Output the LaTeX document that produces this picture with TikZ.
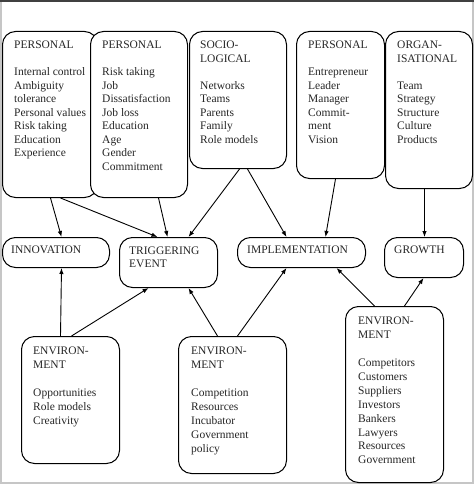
\documentclass[tikz,border=0pt]{standalone}
\usepackage{fontspec}
\setmainfont{Liberation Serif}
\usetikzlibrary{arrows.meta}

\begin{document}
\begin{tikzpicture}[x=1pt,y=-1pt,
  box/.style={draw,fill=white,line width=1pt,rounded corners=13pt,anchor=north west,inner sep=0pt},
  txt/.style={anchor=north west,inner sep=0pt,align=left,text=black!85,font=\fontsize{11.5}{13.5}\selectfont},
  envtxt/.style={txt,font=\fontsize{11.5}{13.9}\selectfont},
  arr/.style={-{Latex[length=6pt,width=4.5pt]},line width=0.9pt}]
\useasboundingbox (0,0) rectangle (474,484);
% scan frame
\draw[gray!45,line width=2.5pt] (1,0)--(1,484) (472.8,0)--(472.8,484) (0,482.8)--(474,482.8);
\draw[black!75,line width=2pt] (0,1)--(474,1);
% top row: factors
\node[box,minimum width=95pt,minimum height=166pt] (p1) at (2,31) {};
\node[txt] (p1t) at ([shift={(12pt,-10pt)}]p1.north west)
  {PERSONAL\\[13.5pt]Internal control\\Ambiguity\\tolerance\\Personal values\\Risk taking\\Education\\Experience};
\node[box,minimum width=97pt,minimum height=166pt] (p2) at (90,31) {};
\node[txt] (p2t) at ([shift={(12pt,-10pt)}]p2.north west)
  {PERSONAL\\[13.5pt]Risk taking\\Job\\Dissatisfaction\\Job loss\\Education\\Age\\Gender\\Commitment};
\node[box,minimum width=97pt,minimum height=137pt] (p3) at (189,31) {};
\node[txt] (p3t) at ([shift={(11pt,-10pt)}]p3.north west)
  {SOCIO-\\LOGICAL\\[13.5pt]Networks\\Teams\\Parents\\Family\\Role models};
\node[box,minimum width=88pt,minimum height=147pt] (p4) at (296,31) {};
\node[txt] (p4t) at ([shift={(12pt,-10pt)}]p4.north west)
  {PERSONAL\\[13.5pt]Entrepreneur\\Leader\\Manager\\Commit-\\ment\\Vision};
\node[box,minimum width=87pt,minimum height=157pt] (p5) at (385,31) {};
\node[txt] (p5t) at ([shift={(12pt,-10pt)}]p5.north west)
  {ORGAN-\\ISATIONAL\\[13.5pt]Team\\Strategy\\Structure\\Culture\\Products};
% middle row: stages
\node[box,minimum width=107pt,minimum height=30pt] (inn) at (2,237) {};
\node[txt] (innt) at ([shift={(9pt,-9pt)}]inn.north west) {INNOVATION};
\node[box,minimum width=98pt,minimum height=50pt] (trig) at (119,237) {};
\node[txt,font=\fontsize{11.5}{13}\selectfont] (trigt) at ([shift={(10pt,-10pt)}]trig.north west) {TRIGGERING\\EVENT};
\node[box,minimum width=128pt,minimum height=30pt] (impl) at (237,237) {};
\node[txt] (implt) at ([shift={(10pt,-9pt)}]impl.north west) {IMPLEMENTATION};
\node[box,minimum width=79pt,minimum height=40pt] (gro) at (384,237) {};
\node[txt] (grot) at ([shift={(10pt,-9pt)}]gro.north west) {GROWTH};
% bottom row: environment
\node[box,minimum width=98pt,minimum height=127pt] (env1) at (21,336) {};
\node[envtxt] (env1t) at ([shift={(12pt,-11pt)}]env1.north west)
  {ENVIRON-\\MENT\\[13.9pt]Opportunities\\Role models\\Creativity};
\node[box,minimum width=108pt,minimum height=137pt] (env2) at (178,336) {};
\node[envtxt] (env2t) at ([shift={(13pt,-11pt)}]env2.north west)
  {ENVIRON-\\MENT\\[13.9pt]Competition\\Resources\\Incubator\\Government\\policy};
\node[box,minimum width=98pt,minimum height=176pt] (env3) at (345,306) {};
\node[envtxt] (env3t) at ([shift={(13pt,-11pt)}]env3.north west)
  {ENVIRON-\\MENT\\[13.9pt]Competitors\\Customers\\Suppliers\\Investors\\Bankers\\Lawyers\\Resources\\Government};
% arrows down into the stages
\foreach \a/\sa/\b/\sb in {p1/0.5/inn/5.5, p1/10.5/trig/-11, p2/19.5/trig/-1, p3/1.5/trig/20,
    p3/9.5/impl/-15, p4/-5/impl/24, p5/-4.5/gro/0.5}
  \draw[arr] ([xshift=\sa pt]\a.south) -- ([xshift=\sb pt]\b.north);
% arrows up into the stages
\foreach \a/\sa/\b/\sb in {env1/-10/inn/5.5, env1/1/trig/-20, env2/-15/trig/20, env2/5/impl/-15,
    env3/-20/impl/35, env3/10/gro/-0.5}
  \draw[arr] ([xshift=\sa pt]\a.north) -- ([xshift=\sb pt]\b.south);
\end{tikzpicture}
\end{document}
